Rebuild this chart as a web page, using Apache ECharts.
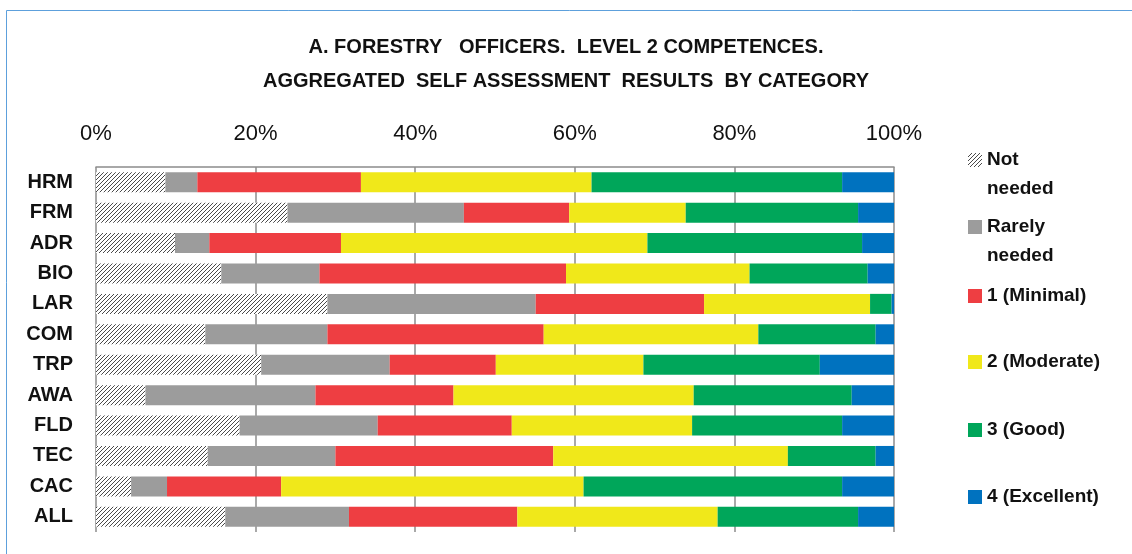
<!DOCTYPE html>
<html>
<head>
<meta charset="utf-8">
<script src="https://cdn.jsdelivr.net/npm/echarts@6/dist/echarts.min.js"></script>
<style>
html,body{margin:0;padding:0;background:#fff;}
#chart{width:1132px;height:554px;}
</style>
</head>
<body>
<div id="chart"></div>
<script>
const categories = ['HRM','FRM','ADR','BIO','LAR','COM','TRP','AWA','FLD','TEC','CAC','ALL'];
const seriesNames = ['Not needed','Rarely needed','1 (Minimal)','2 (Moderate)','3 (Good)','4 (Excellent)'];
const notNeeded    = [8.7,24.0,9.9,15.7,29.0,13.7,20.7,6.2,18.0,14.0,4.4,16.2];
const rarelyNeeded = [4.0,22.1,4.3,12.3,26.1,15.3,16.1,21.3,17.3,16.0,4.5,15.5];
const minimal      = [20.5,13.2,16.5,30.9,21.1,27.1,13.3,17.3,16.8,27.3,14.3,21.1];
const moderate     = [28.9,14.6,38.4,23.0,20.8,26.9,18.5,30.1,22.6,29.4,37.9,25.1];
const good         = [31.4,21.6,26.9,14.8,2.7,14.7,22.1,19.8,18.8,11.0,32.4,17.6];
const excellent    = [6.5,4.5,4.0,3.3,0.3,2.3,9.3,5.3,6.5,2.3,6.5,4.5];
const tickValues   = [0,20,40,60,80,100];

// hatch pattern
const hc = document.createElement('canvas');
hc.width = 4; hc.height = 4;
const hx = hc.getContext('2d');
hx.fillStyle = '#ffffff'; hx.fillRect(0,0,4,4);
hx.strokeStyle = '#4a4a4a'; hx.lineWidth = 1;
hx.beginPath();
hx.moveTo(0,4); hx.lineTo(4,0);
hx.moveTo(-1,1); hx.lineTo(1,-1);
hx.moveTo(3,5); hx.lineTo(5,3);
hx.stroke();
const hatch = {image: hc, repeat: 'repeat'};

const colors = [hatch,'#9C9C9C','#EE3E42','#F0E81A','#00A65A','#0072BF'];
const dataSets = [notNeeded, rarelyNeeded, minimal, moderate, good, excellent];

const chart = echarts.init(document.getElementById('chart'), null, {renderer:'canvas'});

const legendCenters = [160, 227, 296, 362, 430, 497];
const LH = 29;
const legends = seriesNames.map((n,i) => {
  const two = n.indexOf('needed') > 0;
  return {
    data: [n],
    left: 968,
    top: two ? legendCenters[i] - 1.5*LH : legendCenters[i] - LH/2,
    orient: 'vertical',
    padding: 0,
    itemWidth: 14,
    itemHeight: 14,
    itemGap: 0,
    icon: 'rect',
    selectedMode: false,
    formatter: (name) => name.indexOf(' needed') > 0 ? '\n' + name.replace(' needed', '\nneeded') : name,
    textStyle: {
      fontFamily: 'Liberation Sans, Arial, sans-serif',
      fontSize: 19,
      fontWeight: 'bold',
      color: '#111',
      lineHeight: LH
    }
  };
});

const option = {
  backgroundColor: '#fff',
  animation: false,
  title: {
    text: 'A. FORESTRY   OFFICERS.  LEVEL 2 COMPETENCES.\nAGGREGATED  SELF ASSESSMENT  RESULTS  BY CATEGORY',
    left: 'center',
    top: 25,
    padding: [5,5,5,25],
    textStyle: {
      fontFamily: 'Liberation Sans, Arial, sans-serif',
      fontSize: 20,
      fontWeight: 'bold',
      color: '#111',
      lineHeight: 34
    }
  },
  graphic: [{
    type: 'rect',
    shape: {x: 6.5, y: 10.5, width: 1200, height: 700},
    style: {fill: 'none', stroke: '#5DA0DC', lineWidth: 1},
    silent: true,
    z: -1
  }],
  legend: legends,
  grid: {left: 96, top: 167, width: 798, height: 365, containLabel: false},
  xAxis: {
    type: 'value',
    position: 'top',
    min: 0, max: 100, interval: 20,
    axisLine: {show: true, lineStyle: {color: '#8C8C8C', width: 1.5}},
    axisTick: {show: false},
    splitLine: {show: true, lineStyle: {color: '#8C8C8C', width: 1.5}},
    axisLabel: {
      margin: 22,
      formatter: (v) => tickValues.indexOf(v) >= 0 ? v + '%' : '',
      fontFamily: 'Liberation Sans, Arial, sans-serif',
      fontSize: 22,
      color: '#111'
    }
  },
  yAxis: {
    type: 'category',
    inverse: true,
    data: categories,
    axisLine: {show: false},
    axisTick: {show: false},
    axisLabel: {
      margin: 23,
      fontFamily: 'Liberation Sans, Arial, sans-serif',
      fontSize: 20,
      fontWeight: 'bold',
      color: '#111'
    }
  },
  series: seriesNames.map((n,i) => ({
    name: n,
    type: 'bar',
    stack: 'total',
    barWidth: 20,
    data: dataSets[i],
    itemStyle: {color: colors[i]},
    emphasis: {disabled: true}
  }))
};
chart.setOption(option);
</script>
</body>
</html>
